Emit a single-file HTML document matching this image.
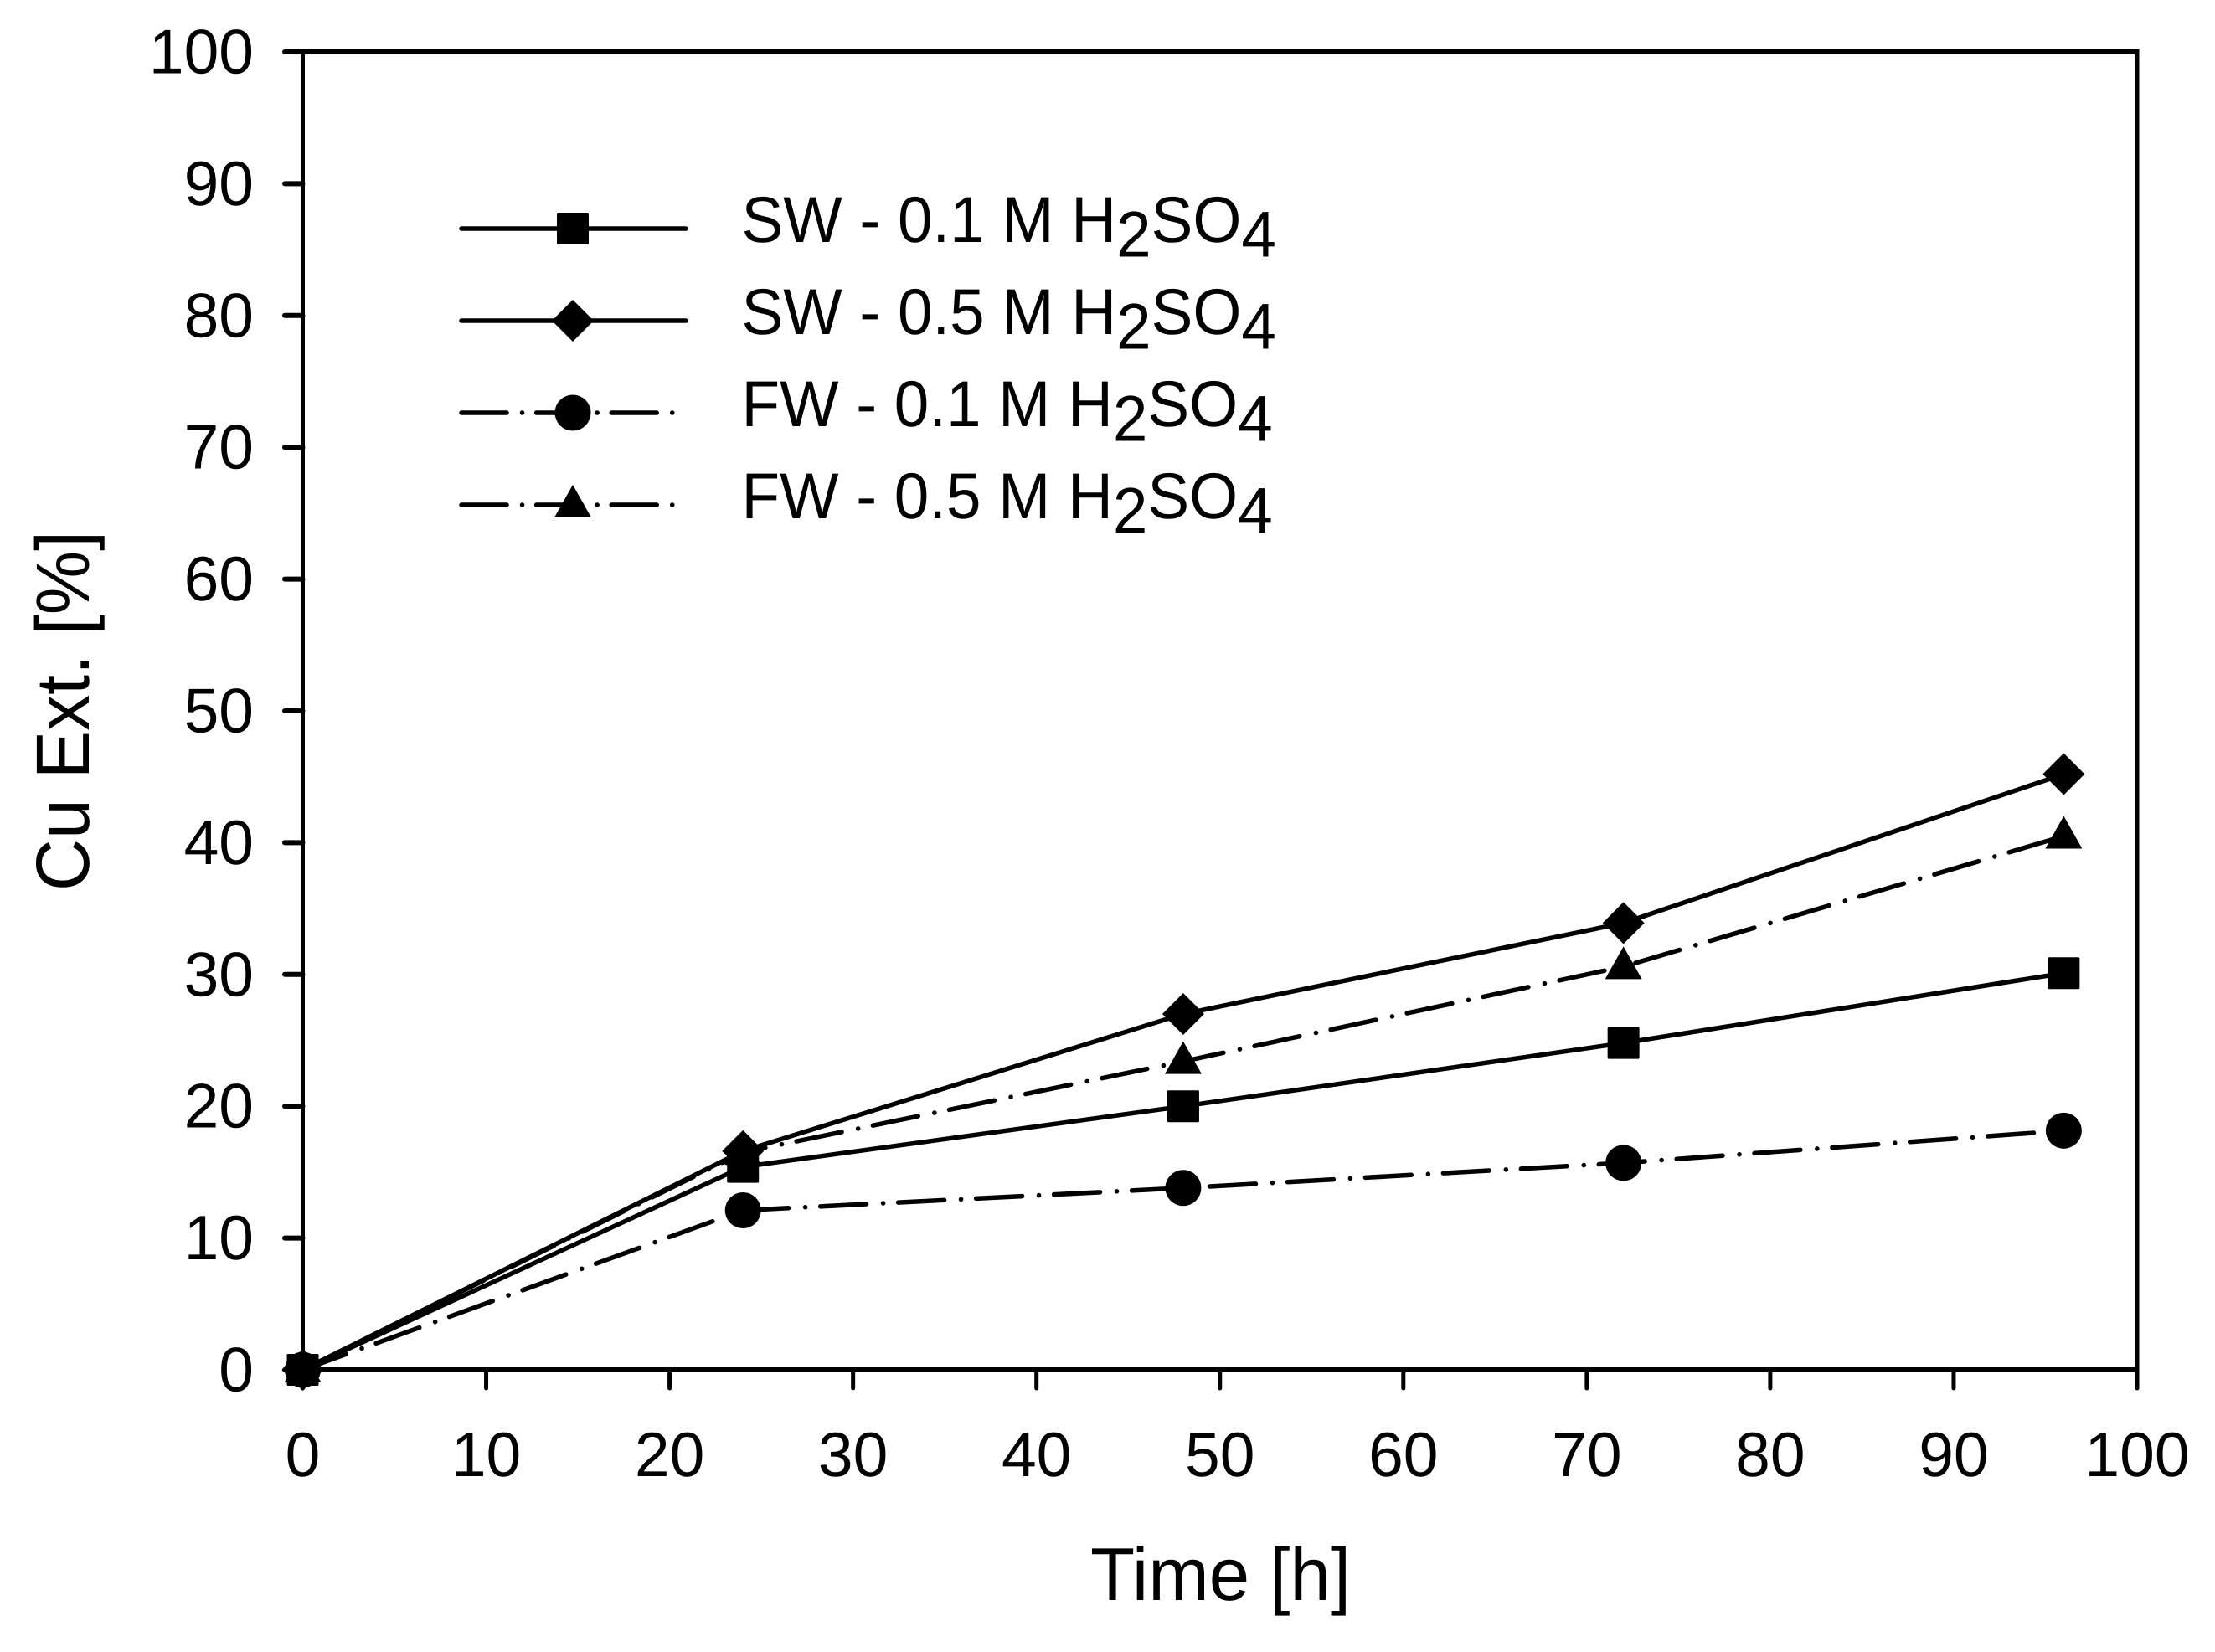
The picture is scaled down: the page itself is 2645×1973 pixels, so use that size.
<!DOCTYPE html>
<html lang="en">
<head>
<meta charset="utf-8">
<title>Cu extraction vs time</title>
<style>
html,body{margin:0;padding:0;background:#fff;}
svg{display:block;}
text{font-family:"Liberation Sans",Arial,sans-serif;fill:#000;text-rendering:geometricPrecision;}
.tick{font-size:75px;}
.leg{font-size:74.6px;}
</style>
</head>
<body>
<svg id="chart" xmlns="http://www.w3.org/2000/svg" width="2645" height="1973" viewBox="0 0 2645 1973">
  <rect x="0" y="0" width="2645" height="1973" fill="#fff"/>
  <g id="axes"></g>
  <g id="series"></g>

  <text font-size="87" transform="translate(1457.5 1911) scale(1 1.03)" text-anchor="middle">Time [h]</text>
  <text font-size="86" transform="translate(106 849) rotate(-90) scale(1 1.05)" text-anchor="middle">Cu Ext. [%]</text>

  <g>
    <g>
      <line x1="551" y1="273" x2="819" y2="273" stroke="#000" stroke-width="5.5" stroke-linecap="round"/>
      <rect x="665" y="254" width="38" height="38" rx="1.5"/>
      <text class="leg" transform="translate(885.5 289) scale(1 1.04)">SW - 0.1 M H<tspan dy="17">2</tspan><tspan dy="-17">SO</tspan><tspan dy="17">4</tspan></text>
    </g>
    <g>
      <line x1="551" y1="383" x2="819" y2="383" stroke="#000" stroke-width="5.5" stroke-linecap="round"/>
      <polygon points="684,358 709,383 684,408 659,383"/>
      <text class="leg" transform="translate(885.5 399) scale(1 1.04)">SW - 0.5 M H<tspan dy="17">2</tspan><tspan dy="-17">SO</tspan><tspan dy="17">4</tspan></text>
    </g>
    <g>
      <line x1="551" y1="493" x2="806" y2="493" stroke="#000" stroke-width="5.5" stroke-linecap="round" stroke-dasharray="54 18.5 0.1 17"/>
      <circle cx="684" cy="493" r="21.5"/>
      <text class="leg" transform="translate(885.5 509) scale(1 1.04)">FW - 0.1 M H<tspan dy="17">2</tspan><tspan dy="-17">SO</tspan><tspan dy="17">4</tspan></text>
    </g>
    <g>
      <line x1="551" y1="603" x2="806" y2="603" stroke="#000" stroke-width="5.5" stroke-linecap="round" stroke-dasharray="54 18.5 0.1 17"/>
      <polygon points="684,579 706,618 662,618"/>
      <text class="leg" transform="translate(885.5 619) scale(1 1.04)">FW - 0.5 M H<tspan dy="17">2</tspan><tspan dy="-17">SO</tspan><tspan dy="17">4</tspan></text>
    </g>
  </g>
</svg>

<script>
var timeHours = [0, 24, 48, 72, 96];
var sw01 = [0, 15.4, 20.0, 24.8, 30.1];
var sw05 = [0, 16.6, 27.0, 33.9, 45.2];
var fw01 = [0, 12.1, 13.8, 15.7, 18.15];
var fw05 = [0, 16.5, 23.4, 30.6, 40.5];
var xTickLabels = [0, 10, 20, 30, 40, 50, 60, 70, 80, 90, 100];
var yTickLabels = [0, 10, 20, 30, 40, 50, 60, 70, 80, 90, 100];

var NS = 'http://www.w3.org/2000/svg';
var PLOT = {left: 361.5, right: 2552, top: 62, bottom: 1636};
var DASH = '55 20 0.1 18';

function xScale(v) { return PLOT.left + (v / 100) * (PLOT.right - PLOT.left); }
function yScale(v) { return PLOT.bottom - (v / 100) * (PLOT.bottom - PLOT.top); }

function make(tag, attrs, parent) {
  var el = document.createElementNS(NS, tag);
  for (var k in attrs) { el.setAttribute(k, attrs[k]); }
  parent.appendChild(el);
  return el;
}

var axes = document.getElementById('axes');
var seriesLayer = document.getElementById('series');

/* frame */
var frameTop = make('line', {x1: PLOT.left, y1: PLOT.top, x2: PLOT.right + 2.5, y2: PLOT.top, stroke: '#000', 'stroke-width': 6}, axes);


var frameBottom = make('line', {x1: PLOT.left, y1: PLOT.bottom, x2: PLOT.right + 2.5, y2: PLOT.bottom, stroke: '#000', 'stroke-width': 6}, axes);


var frameLeft = make('line', {x1: PLOT.left, y1: PLOT.top, x2: PLOT.left, y2: PLOT.bottom, stroke: '#000', 'stroke-width': 5}, axes);


var frameRight = make('line', {x1: PLOT.right, y1: PLOT.top, x2: PLOT.right, y2: PLOT.bottom, stroke: '#000', 'stroke-width': 5}, axes);



/* ticks */
xTickLabels.forEach(function (t) {
  var x = xScale(t);
  var tick = make('line', {x1: x, y1: PLOT.bottom, x2: x, y2: 1658, stroke: '#000', 'stroke-width': 5, 'stroke-linecap': 'round'}, axes);
  
  
  var label = make('text', {x: x, y: 1763, 'text-anchor': 'middle', 'class': 'tick'}, axes);
  label.textContent = String(t);
  
  
});
yTickLabels.forEach(function (t) {
  var y = yScale(t);
  var tick = make('line', {x1: 340, y1: y, x2: PLOT.left, y2: y, stroke: '#000', 'stroke-width': 6, 'stroke-linecap': 'round'}, axes);
  
  
  var label = make('text', {x: 303, y: y + 25.5, 'text-anchor': 'end', 'class': 'tick'}, axes);
  label.textContent = String(t);
  
  
});

/* markers */
function drawMarker(kind, cx, cy, parent) {
  var m;
  if (kind === 'square') {
    m = make('rect', {x: cx - 19, y: cy - 19, width: 38, height: 38, rx: 1.5}, parent);
  } else if (kind === 'diamond') {
    m = make('polygon', {points: [cx, cy - 25, cx + 25, cy, cx, cy + 25, cx - 25, cy].join(' ')}, parent);
  } else if (kind === 'circle') {
    m = make('circle', {cx: cx, cy: cy, r: 21.5}, parent);
  } else {
    m = make('polygon', {points: [cx, cy - 24, cx + 22, cy + 15, cx - 22, cy + 15].join(' ')}, parent);
  }
  return m;
}

function drawSeries(name, values, kind, dash) {
  var g = make('g', {}, seriesLayer);
  
  
  var pts = values.map(function (v, i) { return xScale(timeHours[i]) + ',' + yScale(v); }).join(' ');
  var attrs = {points: pts, fill: 'none', stroke: '#000', 'stroke-width': 5.5, 'stroke-linecap': 'round', 'stroke-linejoin': 'round'};
  if (dash) { attrs['stroke-dasharray'] = dash; }
  var line = make('polyline', attrs, g);
  
  
  values.forEach(function (v, i) {
    var marker = drawMarker(kind, xScale(timeHours[i]), yScale(v), g);
    
    
  });
}

drawSeries('fw-01', fw01, 'circle', DASH);
drawSeries('fw-05', fw05, 'triangle', DASH);
drawSeries('sw-01', sw01, 'square', null);
drawSeries('sw-05', sw05, 'diamond', null);
</script>
</body>
</html>
